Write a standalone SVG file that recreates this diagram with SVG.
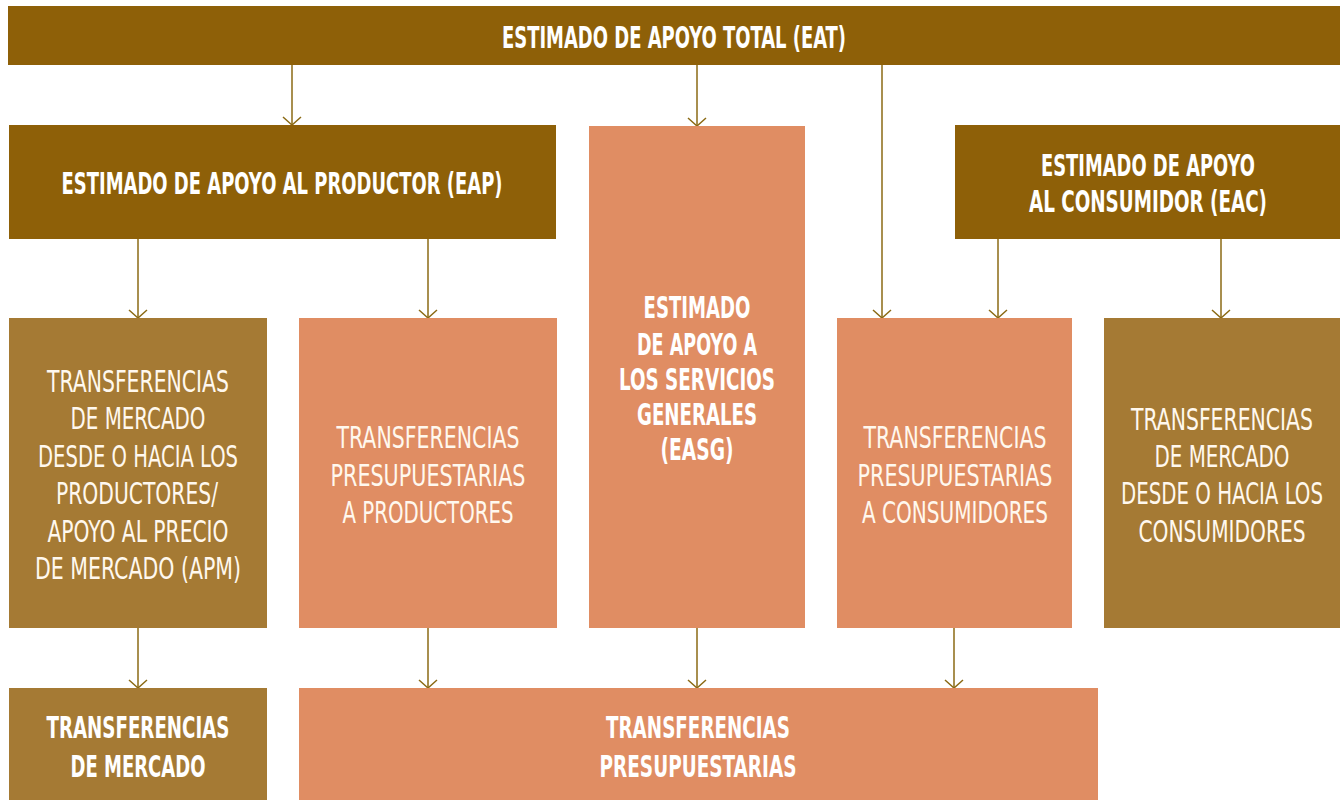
<svg xmlns="http://www.w3.org/2000/svg" width="1343" height="800" viewBox="0 0 1343 800">
<defs>
<marker id="arr" viewBox="0 0 20 12" refX="10" refY="11" markerWidth="20" markerHeight="12" markerUnits="userSpaceOnUse" orient="0">
<path d="M1,3 L10,11 L19,3" fill="none" stroke="#8B6A14" stroke-width="1.5"/>
</marker>
<style>
.dark{fill:#8E6008}
.mid{fill:#A57A34}
.sal{fill:#E08D63}
.b{font-family:"DejaVu Sans Condensed","Liberation Sans",sans-serif;font-weight:bold;font-size:30px;fill:#FFFFFF;text-anchor:middle}
.l{font-family:"DejaVu Sans Condensed","Liberation Sans",sans-serif;font-weight:normal;font-size:30px;fill:#FFF8EE;text-anchor:middle}
.c{stroke:#8B6A14;stroke-width:1.5;fill:none;marker-end:url(#arr)}
</style>
</defs>
<g id="connectors">
<line class="c" x1="292" y1="65" x2="292" y2="125"/>
<line class="c" x1="697" y1="65" x2="697" y2="126"/>
<line class="c" x1="882" y1="65" x2="882" y2="318"/>
<line class="c" x1="138" y1="239" x2="138" y2="318"/>
<line class="c" x1="428" y1="239" x2="428" y2="318"/>
<line class="c" x1="998" y1="239" x2="998" y2="318"/>
<line class="c" x1="1221" y1="239" x2="1221" y2="318"/>
<line class="c" x1="138" y1="628" x2="138" y2="688"/>
<line class="c" x1="428" y1="628" x2="428" y2="688"/>
<line class="c" x1="697" y1="628" x2="697" y2="688"/>
<line class="c" x1="954" y1="628" x2="954" y2="688"/>
</g>
<g id="eat">
<rect class="dark" x="8" y="6" width="1332" height="59"/>
<text class="b" x="674" y="48" textLength="344" lengthAdjust="spacingAndGlyphs">ESTIMADO DE APOYO TOTAL (EAT)</text>
</g>
<g id="eap">
<rect class="dark" x="9" y="125" width="547" height="114"/>
<text class="b" x="282" y="194" textLength="441" lengthAdjust="spacingAndGlyphs">ESTIMADO DE APOYO AL PRODUCTOR (EAP)</text>
</g>
<g id="easg">
<rect class="sal" x="589" y="126" width="216" height="502"/>
<text class="b" x="697" y="318" textLength="107" lengthAdjust="spacingAndGlyphs">ESTIMADO</text>
<text class="b" x="697" y="355" textLength="120" lengthAdjust="spacingAndGlyphs">DE APOYO A</text>
<text class="b" x="697" y="390" textLength="156" lengthAdjust="spacingAndGlyphs">LOS SERVICIOS</text>
<text class="b" x="697" y="425" textLength="120" lengthAdjust="spacingAndGlyphs">GENERALES</text>
<text class="b" x="697" y="460" textLength="73" lengthAdjust="spacingAndGlyphs">(EASG)</text>
</g>
<g id="eac">
<rect class="dark" x="955" y="125" width="385" height="114"/>
<text class="b" x="1148" y="176" textLength="214" lengthAdjust="spacingAndGlyphs">ESTIMADO DE APOYO</text>
<text class="b" x="1148" y="212" textLength="238" lengthAdjust="spacingAndGlyphs">AL CONSUMIDOR (EAC)</text>
</g>
<g id="tm-productores">
<rect class="mid" x="9" y="318" width="258" height="310"/>
<text class="l" x="138" y="392" textLength="182" lengthAdjust="spacingAndGlyphs">TRANSFERENCIAS</text>
<text class="l" x="138" y="429" textLength="135" lengthAdjust="spacingAndGlyphs">DE MERCADO</text>
<text class="l" x="138" y="467" textLength="200" lengthAdjust="spacingAndGlyphs">DESDE O HACIA LOS</text>
<text class="l" x="137" y="504" textLength="162" lengthAdjust="spacingAndGlyphs">PRODUCTORES/</text>
<text class="l" x="138" y="542" textLength="181" lengthAdjust="spacingAndGlyphs">APOYO AL PRECIO</text>
<text class="l" x="138" y="579" textLength="206" lengthAdjust="spacingAndGlyphs">DE MERCADO (APM)</text>
</g>
<g id="tp-productores">
<rect class="sal" x="299" y="318" width="258" height="310"/>
<text class="l" x="428" y="448" textLength="183" lengthAdjust="spacingAndGlyphs">TRANSFERENCIAS</text>
<text class="l" x="428" y="486" textLength="195" lengthAdjust="spacingAndGlyphs">PRESUPUESTARIAS</text>
<text class="l" x="428" y="523" textLength="171" lengthAdjust="spacingAndGlyphs">A PRODUCTORES</text>
</g>
<g id="tp-consumidores">
<rect class="sal" x="837" y="318" width="235" height="310"/>
<text class="l" x="955" y="448" textLength="183" lengthAdjust="spacingAndGlyphs">TRANSFERENCIAS</text>
<text class="l" x="955" y="486" textLength="195" lengthAdjust="spacingAndGlyphs">PRESUPUESTARIAS</text>
<text class="l" x="955" y="523" textLength="186" lengthAdjust="spacingAndGlyphs">A CONSUMIDORES</text>
</g>
<g id="tm-consumidores">
<rect class="mid" x="1104" y="318" width="236" height="310"/>
<text class="l" x="1222" y="430" textLength="182" lengthAdjust="spacingAndGlyphs">TRANSFERENCIAS</text>
<text class="l" x="1222" y="467" textLength="135" lengthAdjust="spacingAndGlyphs">DE MERCADO</text>
<text class="l" x="1222" y="504" textLength="202" lengthAdjust="spacingAndGlyphs">DESDE O HACIA LOS</text>
<text class="l" x="1222" y="542" textLength="167" lengthAdjust="spacingAndGlyphs">CONSUMIDORES</text>
</g>
<g id="transferencias-mercado">
<rect class="mid" x="9" y="688" width="258" height="112"/>
<text class="b" x="138" y="738" textLength="183" lengthAdjust="spacingAndGlyphs">TRANSFERENCIAS</text>
<text class="b" x="138" y="777" textLength="135" lengthAdjust="spacingAndGlyphs">DE MERCADO</text>
</g>
<g id="transferencias-presupuestarias">
<rect class="sal" x="299" y="688" width="799" height="112"/>
<text class="b" x="698" y="738" textLength="184" lengthAdjust="spacingAndGlyphs">TRANSFERENCIAS</text>
<text class="b" x="698" y="777" textLength="197" lengthAdjust="spacingAndGlyphs">PRESUPUESTARIAS</text>
</g>
</svg>
